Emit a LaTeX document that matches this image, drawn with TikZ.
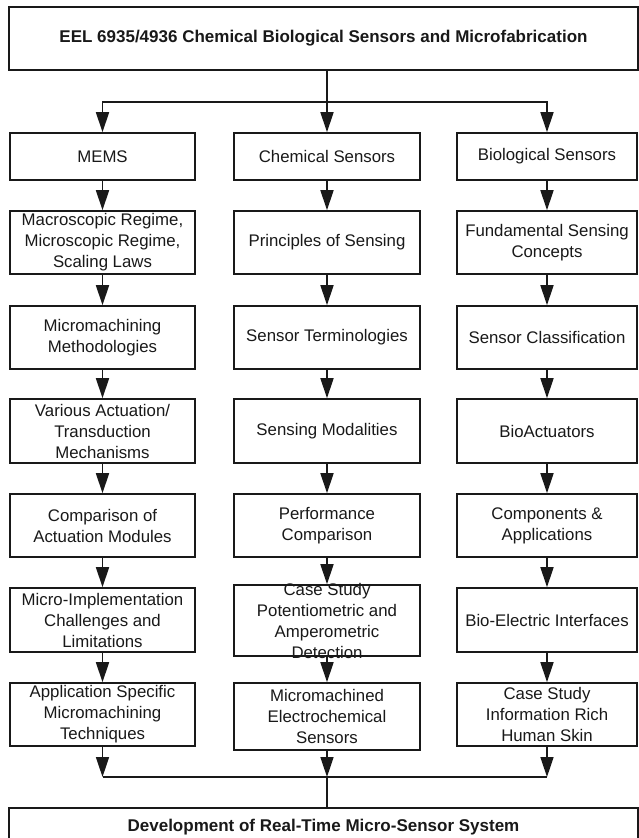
\documentclass[tikz,border=0pt]{standalone}
\usepackage{fontspec}
\setmainfont{Liberation Sans}
\usetikzlibrary{arrows.meta}

\tikzset{
  box/.style={draw=black!90, line width=1.6pt, inner sep=0pt, align=center,
    font=\fontsize{16.8}{21}\selectfont, text=black!90},
  lbox/.style={box, minimum width=185pt},
  cbox/.style={box, minimum width=186pt},
  rbox/.style={box, minimum width=180pt},
  arr/.style={line width=1.6pt, draw=black!90, -{Triangle[length=20pt,width=13pt]}},
  link/.style={line width=1.6pt, draw=black!90}
}

\begin{document}
\begin{tikzpicture}[x=1pt,y=-1pt]

    % canvas
    \fill[white] (0,0) rectangle (639,838);
    \clip (0,0) rectangle (639,838);

    % course title
    \node[box, minimum width=629pt, minimum height=63pt,
      font=\fontsize{17}{20}\selectfont\bfseries] (top) at (323.5,38.5)
      {EEL 6935/4936 Chemical Biological Sensors and Microfabrication};

    % MEMS column
    \node[lbox, minimum height=47pt] (l1) at (102.5,156.5) {MEMS};
    \node[lbox, minimum height=63pt] (l2) at (102.5,242.5) {Macroscopic Regime,\\Microscopic Regime,\\Scaling Laws};
    \node[lbox, minimum height=63pt] (l3) at (102.5,337.5) {Micromachining\\Methodologies};
    \node[lbox, minimum height=64pt] (l4) at (102.5,431) {Various Actuation/\\Transduction\\Mechanisms};
    \node[lbox, minimum height=63pt] (l5) at (102.5,525.5) {Comparison of\\Actuation Modules};
    \node[lbox, minimum height=64pt] (l6) at (102.5,620) {Micro-Implementation\\Challenges and\\Limitations};
    \node[lbox, minimum height=63pt] (l7) at (102.5,714.5) {Application Specific\\Micromachining\\Techniques};

    % chemical sensors column
    \node[cbox, minimum height=47pt] (c1) at (327,156.5) {Chemical Sensors};
    \node[cbox, minimum height=63pt] (c2) at (327,242.5) {Principles of Sensing};
    \node[cbox, minimum height=63pt] (c3) at (327,337.5) {Sensor Terminologies};
    \node[cbox, minimum height=64pt] (c4) at (327,431) {Sensing Modalities};
    \node[cbox, minimum height=63pt] (c5) at (327,525.5) {Performance\\Comparison};
    \node[cbox, minimum height=71pt] (c6) at (327,620.5) {};
    \node[box, draw=none] at (c6) {Case Study\\Potentiometric and\\Amperometric\\Detection}; % text runs over the box
    \node[cbox, minimum height=67pt] (c7) at (327,716.5) {Micromachined\\Electrochemical\\Sensors};

    % biological sensors column
    \node[rbox, minimum height=47pt] (r1) at (547,156.5) {Biological Sensors};
    \node[rbox, minimum height=63pt] (r2) at (547,242.5) {Fundamental Sensing\\Concepts};
    \node[rbox, minimum height=63pt] (r3) at (547,337.5) {Sensor Classification};
    \node[rbox, minimum height=64pt] (r4) at (547,431) {BioActuators};
    \node[rbox, minimum height=63pt] (r5) at (547,525.5) {Components \&\\Applications};
    \node[rbox, minimum height=64pt] (r6) at (547,620) {Bio-Electric Interfaces};
    \node[rbox, minimum height=63pt] (r7) at (547,714.5) {Case Study\\Information Rich\\Human Skin};

    % final goal (runs off the bottom edge)
    \node[box, minimum width=629pt, minimum height=60pt,
      font=\fontsize{17}{20}\selectfont\bfseries, text depth=25pt] (goal) at (323.5,838)
      {Development of Real-Time Micro-Sensor System};

    % split to the three columns
    \coordinate (split) at (327,102);
    \draw[link] (split |- top.south) -- (split);
    \draw[arr] (split) -| (l1);
    \draw[arr] (split) -- (c1);
    \draw[arr] (split) -| (r1);

    % down each column
    \foreach \col in {l,c,r}{
      \foreach \i [evaluate=\i as \j using int(\i+1)] in {1,...,6}
        \draw[arr] (\col\i) -- (\col\j);
    }

    % merge into the final box
    \coordinate (merge) at (327,777);
    \draw[arr] (l7) -- (l7 |- merge);
    \draw[arr] (c7) -- (merge);
    \draw[arr] (r7) -- (r7 |- merge);
    \draw[link] (l7 |- merge) -- (r7 |- merge);
    \draw[link] (merge) -- (merge |- goal.north);

\end{tikzpicture}
\end{document}
